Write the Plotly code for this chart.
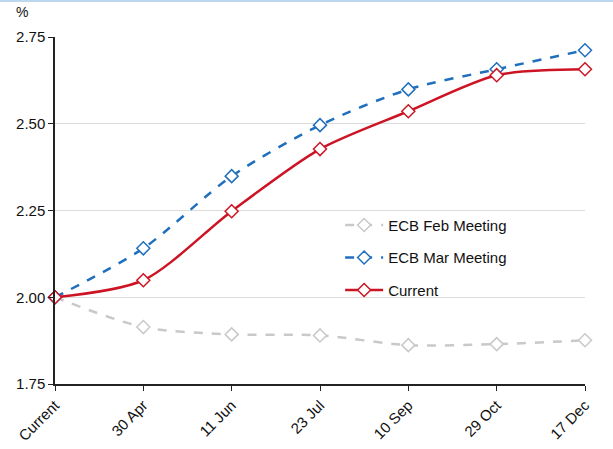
import plotly.graph_objects as go

# Meeting dates on the x axis
meetings = ["Current", "30 Apr", "11 Jun", "23 Jul", "10 Sep", "29 Oct", "17 Dec"]

# Market-implied policy rate paths (%)
feb_meeting = [2.00, 1.914, 1.893, 1.890, 1.862, 1.865, 1.876]
mar_meeting = [2.00, 2.141, 2.349, 2.496, 2.599, 2.657, 2.712]
current = [2.00, 2.049, 2.248, 2.427, 2.536, 2.640, 2.657]

FONT = "Liberation Sans, Arial, sans-serif"

fig = go.Figure()

series = [
    ("ECB Feb Meeting", feb_meeting, "#c9c9c9", "dash"),
    ("ECB Mar Meeting", mar_meeting, "#1f6fbd", "dash"),
    ("Current", current, "#cc1424", "solid"),
]
for name, vals, color, dash in series:
    fig.add_trace(go.Scatter(
        x=meetings, y=vals, name=name, mode="lines+markers",
        line=dict(color=color, width=2.5, dash=dash, shape="spline", smoothing=0.8),
        marker=dict(symbol="diamond", size=10, color="white",
                    line=dict(color=color, width=1.5)),
        legendgroup=name, cliponaxis=False,
    ))

fig.update_layout(
    width=613, height=449,
    margin=dict(l=55, r=28, t=37, b=65),
    paper_bgcolor="white", plot_bgcolor="white",
    font=dict(family=FONT, size=15, color="#111"),
    showlegend=True,
    legend=dict(x=0.538, y=0.505, xanchor="left", yanchor="top",
                bgcolor="rgba(255,255,255,0)", font=dict(size=15),
                tracegroupgap=10, itemwidth=38),
    xaxis=dict(
        type="category", range=[0, 6], tickangle=-45, automargin=False,
        showline=True, linecolor="#222", linewidth=1.5,
        ticks="outside", ticklen=5, tickcolor="#222",
        showgrid=False, zeroline=False,
        tickfont=dict(size=15),
    ),
    yaxis=dict(
        range=[1.75, 2.75], tickvals=[1.75, 2.00, 2.25, 2.50, 2.75],
        tickformat=".2f", automargin=False,
        showline=True, linecolor="#222", linewidth=1.5,
        ticks="outside", ticklen=5, tickcolor="#222",
        showgrid=True, gridcolor="#dcdcdc", gridwidth=1, zeroline=False,
        tickfont=dict(size=15),
    ),
    annotations=[dict(
        text="%", xref="paper", yref="paper", x=-0.062, y=1.043,
        xanchor="center", yanchor="bottom", showarrow=False,
        font=dict(size=14),
    )],
    shapes=[dict(
        type="line", xref="paper", yref="paper",
        x0=-55 / 530, x1=1 + 28 / 530, y0=1 + 36 / 347, y1=1 + 36 / 347,
        line=dict(color="#bdd7ee", width=2),
    )],
)

fig.write_html("out.html")
